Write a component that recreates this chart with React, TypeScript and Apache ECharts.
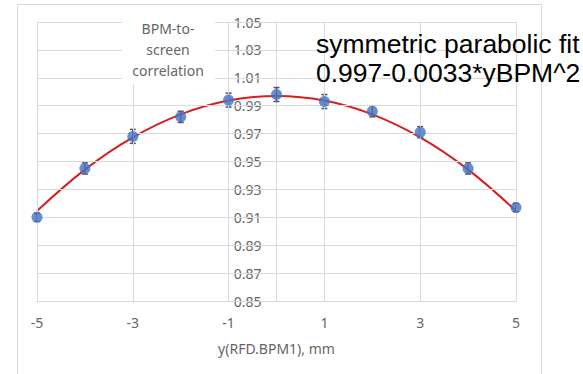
import React, { useEffect, useRef } from "react";
import * as echarts from "echarts";

const xValues = [-5, -4, -3, -2, -1, 0, 1, 2, 3, 4, 5];
const ratioValues = [0.91, 0.945, 0.968, 0.982, 0.994, 0.998, 0.993, 0.986, 0.971, 0.945, 0.917];
const ratioErrors = [0.003, 0.004, 0.005, 0.004, 0.005, 0.005, 0.005, 0.004, 0.004, 0.004, 0.003];
const fitValues = [0.9145, 0.9442, 0.9673, 0.9838, 0.9937, 0.997, 0.9937, 0.9838, 0.9673, 0.9442, 0.9145];
const xGridValues = [-5, -3, -1, 1, 3, 5];
const yGridValues = [0.85, 0.87, 0.89, 0.91, 0.93, 0.95, 0.97, 0.99, 1.01, 1.03, 1.05];

const boxLines = ["BPM-to-", "screen", "correlation"];
const fitLines = ["symmetric parabolic fit", "0.997-0.0033*yBPM^2"];
const xAxisName = "y(RFD.BPM1), mm";

const GRID = "#d9d9d9";
const LABEL = "#666666";
const FONT = "'Noto Sans', sans-serif";

const GRID_LEFT = 37;
const GRID_RIGHT = 67;
const WIDTH = 583;

export default function App() {
  const ref = useRef<HTMLDivElement>(null);
  useEffect(() => {
    if (!ref.current) return;
    const chart = echarts.init(ref.current, null, { renderer: "svg" });
    const plotW = WIDTH - GRID_LEFT - GRID_RIGHT;
    const option: any = {
      animation: false,
      backgroundColor: "#ffffff",
      grid: { left: GRID_LEFT, right: GRID_RIGHT, top: 22, bottom: 73 },
      xAxis: {
        type: "value",
        min: -5,
        max: 5,
        interval: 1,
        axisLine: { onZero: false, lineStyle: { color: "#c8c8c8", width: 1 } },
        axisTick: { show: false },
        splitLine: { show: false },
        axisLabel: {
          color: LABEL,
          fontSize: 14,
          fontFamily: FONT,
          margin: 14,
          formatter: (v: number) => (Math.abs(Math.round(v)) % 2 === 1 ? String(v) : ""),
        },
        name: xAxisName,
        nameLocation: "middle",
        nameGap: 40,
        nameTextStyle: { color: LABEL, fontSize: 14, fontFamily: FONT },
      },
      yAxis: {
        type: "value",
        min: 0.85,
        max: 1.05,
        interval: 0.01,
        z: 2,
        position: "left",
        offset: -plotW / 2,
        axisLine: { show: true, onZero: false, lineStyle: { color: GRID, width: 1 } },
        axisTick: { show: false },
        splitLine: { show: false },
        axisLabel: {
          color: LABEL,
          fontSize: 14,
          fontFamily: FONT,
          margin: 14,
          backgroundColor: "#ffffff",
          padding: [0, 1],
          formatter: (v: number) => (Math.round(v * 100) % 2 === 1 ? v.toFixed(2) : ""),
        },
      },
      graphic: [
        {
          type: "rect",
          z: -10,
          silent: true,
          shape: { x: 17.5, y: 4.5, width: 524, height: 400 },
          style: { fill: "none", stroke: GRID, lineWidth: 1 },
        },
        {
          type: "rect",
          z: 50,
          silent: true,
          shape: { x: 122, y: 12, width: 93, height: 72 },
          style: { fill: "#ffffff" },
        },
        ...boxLines.map((t, i) => ({
          type: "text",
          z: 51,
          silent: true,
          x: 168,
          y: 28 + i * 21,
          style: {
            text: t,
            fill: LABEL,
            font: `14px ${FONT}`,
            textAlign: "center",
            textVerticalAlign: "middle",
          },
        })),
        ...fitLines.map((t, i) => ({
          type: "text",
          z: 51,
          silent: true,
          x: 316,
          y: 44 + i * 29,
          style: {
            text: t,
            fill: "#000000",
            font: `26.5px 'Liberation Sans', Arial, sans-serif`,
            textAlign: "left",
            textVerticalAlign: "middle",
          },
        })),
      ],
      series: [
        {
          type: "line",
          z: 1,
          data: [],
          silent: true,
          markLine: {
            silent: true,
            symbol: ["none", "none"],
            label: { show: false },
            lineStyle: { color: GRID, width: 1, type: "solid" },
            emphasis: { disabled: true },
            data: [
              ...xGridValues.map((v) => ({ xAxis: v })),
              ...yGridValues.map((v) => ({ yAxis: v })),
            ],
          },
        },
        {
          type: "line",
          z: 3,
          data: xValues.map((x, i) => [x, fitValues[i]]),
          smooth: 0.4,
          symbol: "none",
          lineStyle: { color: "#d42020", width: 2 },
        },
        {
          type: "custom",
          z: 4,
          data: xValues.map((x, i) => [x, ratioValues[i], ratioErrors[i]]),
          encode: { x: 0, y: 1 },
          renderItem: (params: any, api: any) => {
            const x = api.value(0);
            const y = api.value(1);
            const e = api.value(2);
            const top = api.coord([x, y + e]);
            const bot = api.coord([x, y - e]);
            const hw = 3;
            const st = { stroke: "#555555", lineWidth: 1.5 };
            return {
              type: "group",
              children: [
                { type: "line", shape: { x1: top[0], y1: top[1], x2: bot[0], y2: bot[1] }, style: st },
                { type: "line", shape: { x1: top[0] - hw, y1: top[1], x2: top[0] + hw, y2: top[1] }, style: st },
                { type: "line", shape: { x1: bot[0] - hw, y1: bot[1], x2: bot[0] + hw, y2: bot[1] }, style: st },
              ],
            };
          },
        },
        {
          type: "scatter",
          z: 5,
          data: xValues.map((x, i) => [x, ratioValues[i]]),
          symbol: "circle",
          symbolSize: 11,
          itemStyle: { color: "#4472c4" },
        },
      ],
    };
    chart.setOption(option);
    return () => chart.dispose();
  }, []);
  return (
    <div
      ref={ref}
      style={{ position: "absolute", left: 0, top: 0, width: WIDTH, height: 374 }}
    />
  );
}
